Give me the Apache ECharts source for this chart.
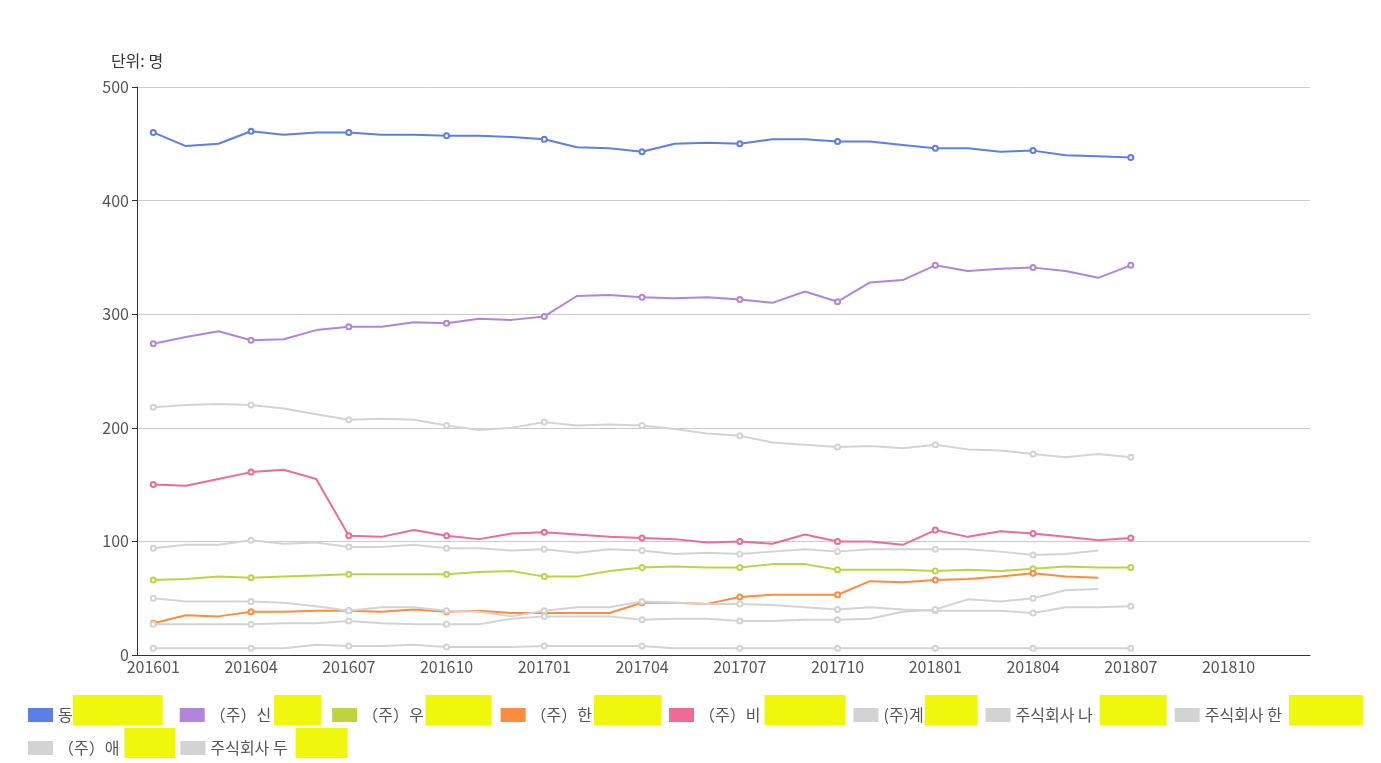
<!DOCTYPE html>
<html><head><meta charset="utf-8">
<script src="https://cdn.jsdelivr.net/npm/echarts@6/dist/echarts.min.js"></script>
<style>html,body{margin:0;padding:0;background:#fff}#c{width:1381px;height:763px}</style>
</head><body><div id="c"></div>
<script>
// ---- data ----
const months = ['201601','201602','201603','201604','201605','201606','201607','201608','201609','201610','201611','201612',
  '201701','201702','201703','201704','201705','201706','201707','201708','201709','201710','201711','201712',
  '201801','201802','201803','201804','201805','201806','201807','201808','201809','201810','201811','201812'];
const seriesNames = ['동','（주）신','（주）우','（주）한','（주）비','(주)계','주식회사 나','주식회사 한','（주）애','주식회사 두'];
const dong   = [460,448,450,461,458,460,460,458,458,457,457,456,454,447,446,443,450,451,450,454,454,452,452,449,446,446,443,444,440,439,438];
const shin   = [274,280,285,277,278,286,289,289,293,292,296,295,298,316,317,315,314,315,313,310,320,311,328,330,343,338,340,341,338,332,343];
const woo    = [66,67,69,68,69,70,71,71,71,71,73,74,69,69,74,77,78,77,77,80,80,75,75,75,74,75,74,76,78,77,77];
const han    = [28,35,34,38,38,39,39,38,40,38,39,37,37,37,37,46,46,45,51,53,53,53,65,64,66,67,69,72,69,68];
const bi     = [150,149,155,161,163,155,105,104,110,105,102,107,108,106,104,103,102,99,100,98,106,100,100,97,110,104,109,107,104,101,103];
const gye    = [218,220,221,220,217,212,207,208,207,202,198,200,205,202,203,202,199,195,193,187,185,183,184,182,185,181,180,177,174,177,174];
const na     = [94,97,97,101,98,99,95,95,97,94,94,92,93,90,93,92,89,90,89,91,93,91,93,93,93,93,91,88,89,92];
const han2   = [50,47,47,47,46,43,39,42,42,39,38,34,39,42,42,47,46,45,45,44,42,40,42,40,39,39,39,37,42,42,43];
const ae     = [27,27,27,27,28,28,30,28,27,27,27,32,34,34,34,31,32,32,30,30,31,31,32,38,40,49,47,50,57,58];
const du     = [6,6,6,6,6,9,8,8,9,7,7,7,8,8,8,8,6,6,6,6,6,6,6,6,6,6,6,6,6,6,6];
const values = [dong, shin, woo, han, bi, gye, na, han2, ae, du];
const yTicks = [0, 100, 200, 300, 400, 500];

// ---- styles ----
const colors = ['#5b7fe6','#b384db','#bfd341','#ff8c3c','#ef6b97','#d3d3d3','#d3d3d3','#d3d3d3','#d3d3d3','#d3d3d3'];
const preW = [0,3,2,2,4,1,7,7,5,8];
const boxW = [90,47,66,67,81,53,67,74,51,52];
const gapW = [12,6,4,3,3,2,3,0,0,0];
const FONT = '"Noto Sans CJK KR", "Noto Sans", sans-serif';

const rich = { t: { fontSize: 16, color: '#555', lineHeight: 40, fontFamily: FONT } };
const spacer = w => ({ width: w, height: 10, fontSize: 10, color: 'rgba(0,0,0,0)', backgroundColor: 'rgba(255,255,255,0.01)' });
boxW.forEach((w, i) => {
  rich['b' + i] = { width: w, height: 30, backgroundColor: '#eef70c', verticalAlign: 'top', fontSize: 10, color: 'rgba(0,0,0,0)' };
  rich['s' + i] = spacer(gapW[i]);
  rich['p' + i] = spacer(preW[i]);
});
const fmt = name => {
  const i = seriesNames.indexOf(name);
  return '{t|' + name + '}' + (preW[i] ? '{p' + i + '|.}' : '') + '{b' + i + '|.}' + (gapW[i] ? '{s' + i + '|.}' : '');
};
const legendBase = {
  icon: 'rect', itemWidth: 25, itemHeight: 14, itemGap: 5, left: 23, orient: 'horizontal',
  formatter: fmt, textStyle: { rich: rich, fontFamily: FONT }
};

const chart = echarts.init(document.getElementById('c'));
chart.setOption({
  animation: false,
  textStyle: { fontFamily: FONT },
  color: colors,
  grid: { left: 137, right: 71, top: 87, bottom: 108, containLabel: false },
  legend: [
    Object.assign({}, legendBase, { top: 690, data: seriesNames.slice(0, 8) }),
    Object.assign({}, legendBase, { top: 723, data: seriesNames.slice(8) })
  ],
  xAxis: {
    type: 'category', data: months, boundaryGap: true,
    axisLine: { lineStyle: { color: '#333' } },
    axisTick: { interval: 2, lineStyle: { color: '#333' } },
    axisLabel: { interval: 2, fontSize: 16, color: '#555', margin: 4, fontFamily: FONT }
  },
  yAxis: {
    type: 'value', min: yTicks[0], max: yTicks[yTicks.length - 1], interval: 100,
    name: '단위: 명', nameLocation: 'end', nameGap: 18,
    nameTextStyle: { fontSize: 16, color: '#333', fontFamily: FONT, align: 'center' },
    axisLine: { show: true, lineStyle: { color: '#333' } },
    axisTick: { show: true, lineStyle: { color: '#333' } },
    axisLabel: { fontSize: 16, color: '#555', fontFamily: FONT },
    splitLine: { lineStyle: { color: '#ccc' } }
  },
  series: values.map((v, i) => ({
    name: seriesNames[i], type: 'line', data: v,
    symbol: 'emptyCircle',
    symbolSize: (val, p) => (p.dataIndex % 3 === 0 ? 5 : 0),
    showAllSymbol: true,
    lineStyle: { width: 2, color: colors[i] },
    itemStyle: { color: colors[i], borderWidth: 1 }
  }))
});
</script></body></html>
